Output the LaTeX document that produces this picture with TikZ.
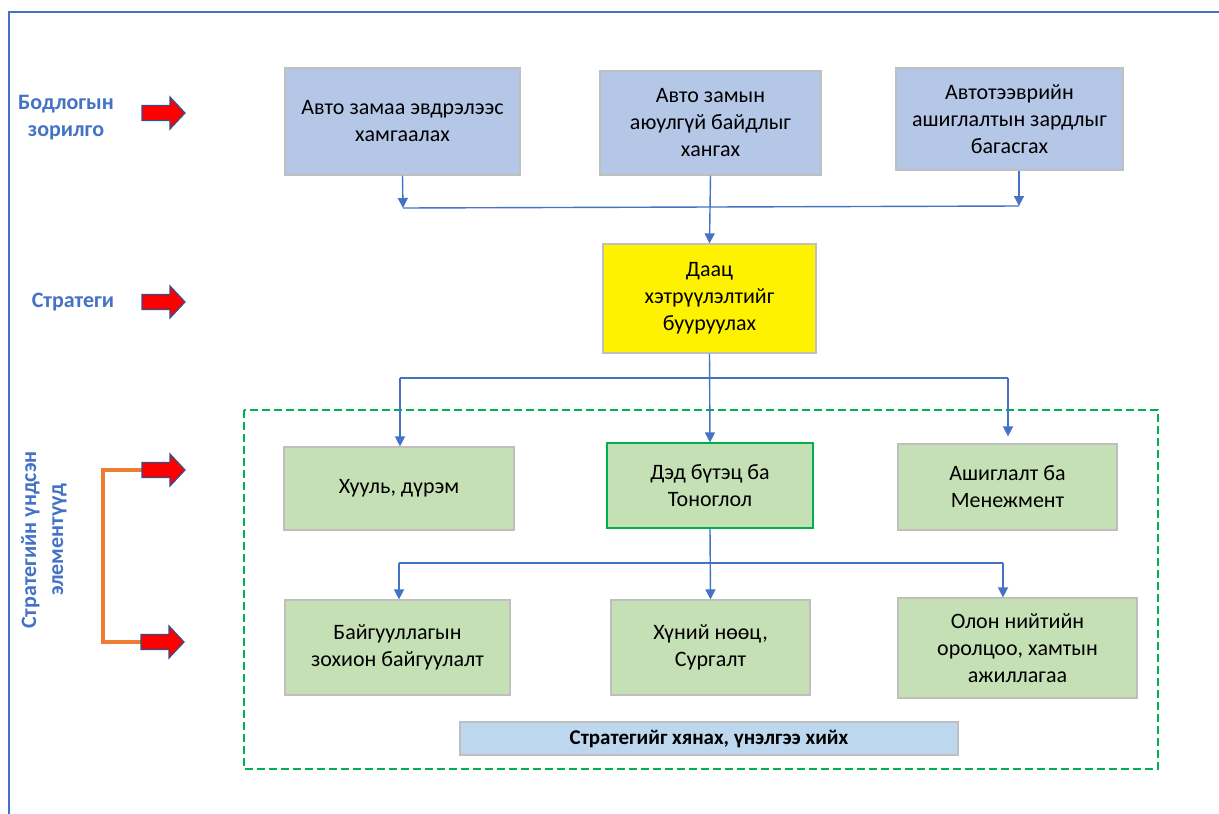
\documentclass[tikz,border=0pt]{standalone}
\usepackage{fontspec}
\setmainfont{Carlito}
\usetikzlibrary{arrows.meta}
\definecolor{frameblue}{HTML}{4472C4}
\definecolor{topfill}{HTML}{B4C7E7}
\definecolor{greenfill}{HTML}{C5E0B4}
\definecolor{barfill}{HTML}{BDD7EE}
\definecolor{boxgray}{HTML}{BFBFBF}
\definecolor{dashgreen}{HTML}{00B050}
\definecolor{orangeline}{HTML}{ED7D31}
\definecolor{arrowedge}{HTML}{2F528F}
\tikzset{
  x=1pt, y=-1pt,
  box/.style={draw=boxgray, line width=1.2pt, inner sep=0pt, align=center,
    font=\fontsize{22}{27}\selectfont, text=black},
  topbox/.style={box, fill=topfill},
  greenbox/.style={box, fill=greenfill},
  sidelabel/.style={text=frameblue, font=\fontsize{22}{27}\selectfont\bfseries, align=center, inner sep=0pt},
  conn/.style={draw=frameblue, line width=1.4pt, -{Triangle[width=10pt,length=10pt]}},
  joint/.style={draw=frameblue, line width=1.4pt},
  redarrow/.style={draw=arrowedge, line width=1.2pt, fill=red, line join=miter},
}
\newcommand\fatarrow[1]{%
  \draw[redarrow] ($(#1)+(0,-7.5)$) -- ++(28,0) -- ++(0,-8.5) -- ++(15,16) -- ++(-15,16) -- ++(0,-8.5) -- ++(-28,0) -- cycle;}
\usetikzlibrary{calc}
\begin{document}
\begin{tikzpicture}
\useasboundingbox (0,0) rectangle (1219,814);
% frame lines
\draw[frameblue, line width=1.4pt] (9,814) -- (9,12) -- (1219,12);

% left labels
\node[sidelabel] (lab1) at (66,118) {Бодлогын\\зорилго};
\node[sidelabel] (lab2) at (73,302) {Стратеги};
\node[sidelabel, rotate=90] (lab3) at (44,540) {Стратегийн үндсэн\\элементүүд};

% red arrows
\coordinate (ra1) at (142,113);
\coordinate (ra2) at (142,302);
\coordinate (ra3) at (142,470);
\coordinate (ra4) at (141,642);
\draw[orangeline, line width=4pt] (ra3) -- (103,470) -- (103,642) -- (ra4);
\fatarrow{ra1}
\fatarrow{ra2}
\fatarrow{ra3}
\fatarrow{ra4}

% top boxes
\node[topbox, minimum width=235pt, minimum height=107pt] (b1) at (402.5,121.5) {Авто замаа эвдрэлээс\\хамгаалах};
\node[topbox, minimum width=221pt, minimum height=104pt] (b2) at (710.5,123) {Авто замын\\аюулгүй байдлыг\\хангах};
\node[topbox, minimum width=227pt, minimum height=102pt] (b3) at (1009.5,119) {Автотээврийн\\ашиглалтын зардлыг\\багасгах};

% strategy
\node[box, fill=yellow, minimum width=213pt, minimum height=109pt] (s) at (709.5,298.5) {Даац\\хэтрүүлэлтийг\\бууруулах};

% dashed frame
\draw[dashgreen, line width=2pt, dash pattern=on 8pt off 4pt] (244,410) rectangle (1158,769);

% row 1
\node[greenbox, minimum width=230pt, minimum height=83pt] (e1) at (399,488.5) {Хууль, дүрэм};
\node[greenbox, draw=dashgreen, minimum width=206pt, minimum height=85pt] (e2) at (710,485.5) {Дэд бүтэц ба\\Тоноглол};
\node[greenbox, minimum width=219pt, minimum height=86pt] (e3) at (1007.5,487) {Ашиглалт ба\\Менежмент};

% row 2
\node[greenbox, minimum width=225pt, minimum height=95pt] (f1) at (397.5,647.5) {Байгууллагын\\зохион байгуулалт};
\node[greenbox, minimum width=199pt, minimum height=95pt] (f2) at (710.5,647.5) {Хүний нөөц,\\Сургалт};
\node[greenbox, minimum width=239pt, minimum height=100pt] (f3) at (1017.5,648) {Олон нийтийн\\оролцоо, хамтын\\ажиллагаа};

% bottom bar
\node[box, fill=barfill, minimum width=498pt, minimum height=33pt, font=\fontsize{21}{24}\selectfont\bfseries] (bar) at (709,738.5) {Стратегийг хянах, үнэлгээ хийх};

% connectors: goals to strategy
\coordinate (j1) at (403,208);
\coordinate (j3) at (1019,206);
\draw[conn] (b1.south) -- (j1);
\draw[conn] (b3.south -| j3) -- (j3);
\draw[joint] (j1) -- (j3);
\draw[conn] (b2.south) -- (s.north);

% strategy to elements
\coordinate (k1) at (400,378);
\coordinate (k3) at (1008,378);
\draw[joint] (k1) -- (k3);
\draw[conn] (s.south) -- (e2.north);
\draw[conn] (k1) -- (e1.north -| k1);
\draw[conn, shorten >=7pt] (k3) -- (e3.north -| k3);

% second level
\coordinate (m1) at (399,563);
\coordinate (m3) at (1003,563);
\draw[joint] (m1) -- (m3);
\draw[conn] (e2.south) -- (f2.north);
\draw[conn] (m1) -- (f1.north -| m1);
\draw[conn] (m3) -- (f3.north -| m3);
\end{tikzpicture}
\end{document}
